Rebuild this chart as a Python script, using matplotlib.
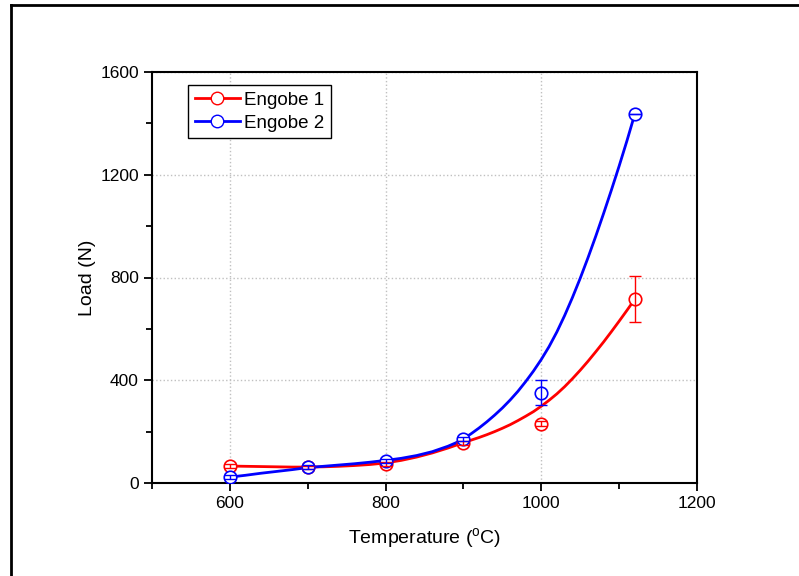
import numpy as np
import matplotlib
matplotlib.use("Agg")
import matplotlib.pyplot as plt
from matplotlib.lines import Line2D
from matplotlib.ticker import MultipleLocator

plt.rcParams['font.family'] = ['Liberation Sans', 'DejaVu Sans']
plt.rcParams['mathtext.fontset'] = 'custom'
plt.rcParams['mathtext.rm'] = 'Liberation Sans'

# measured points
temp = [600, 700, 800, 900, 1000, 1120]
load_e1 = [66, 62, 74, 157, 230, 715]
err_e1 = [8, 6, 8, 8, 10, 90]
load_e2 = [23, 62, 87, 171, 352, 1435]
err_e2 = [8, 8, 8, 8, 48, 0]

# fitted curves
fit_t1 = [600, 620, 640, 660, 680, 700, 720, 740, 760, 780, 800, 820, 840, 860,
          880, 900, 910, 920, 930, 940, 950, 960, 970, 980, 990, 1000, 1010,
          1020, 1030, 1040, 1050, 1060, 1070, 1080, 1090, 1100, 1110, 1120]
fit_e1 = [66, 65, 64, 63, 62, 62, 63, 65, 68, 72, 78, 88, 101, 117,
          136, 157, 167, 177, 188, 200, 213, 227, 243, 260, 278, 299, 322,
          347, 375, 406, 439, 474, 511, 549, 589, 630, 672, 715]
fit_t2 = [600, 620, 640, 660, 680, 700, 720, 740, 760, 780, 800, 820, 840, 860,
          880, 890, 900, 910, 920, 930, 940, 950, 960, 970, 980, 990, 1000, 1010,
          1020, 1030, 1040, 1050, 1060, 1070, 1080, 1090, 1100, 1110, 1120]
fit_e2 = [23, 30, 38, 45, 52, 60, 65, 70, 75, 81, 88, 96, 107, 122,
          143, 156, 172, 192, 214, 238, 264, 292, 323, 357, 395, 436, 481, 531,
          588, 652, 722, 797, 877, 961, 1049, 1140, 1234, 1332, 1435]

fig = plt.figure(figsize=(7.99, 5.76), dpi=100)
ax = fig.add_axes([152/799, 1 - 483/576, 545/799, 411/576])

ax.plot(fit_t1, fit_e1, color='red', lw=2, zorder=2)
ax.plot(fit_t2, fit_e2, color='blue', lw=2, zorder=2)

for y, e, c in [(load_e1, err_e1, 'red'), (load_e2, err_e2, 'blue')]:
    ax.plot(temp, y, 'o', ms=9, mfc='white', mec=c, mew=1.2, zorder=3)
    ax.errorbar(temp, y, yerr=e, fmt='none', ecolor=c, elinewidth=1,
                capsize=4, capthick=1, zorder=4)

ax.set_xlim(500, 1200)
ax.set_ylim(0, 1600)
ax.xaxis.set_major_locator(MultipleLocator(200))
ax.xaxis.set_minor_locator(MultipleLocator(100))
ax.yaxis.set_major_locator(MultipleLocator(400))
ax.yaxis.set_minor_locator(MultipleLocator(200))
ax.tick_params(which='major', direction='out', length=6, width=1.3, labelsize=12.5)
ax.tick_params(which='minor', direction='out', length=4, width=1.3)
for s in ax.spines.values():
    s.set_linewidth(1.5)
ax.grid(True, which='major', ls=':', color='#c0c0c0', lw=1)
ax.set_axisbelow(True)

ax.set_xlabel(r'Temperature ($^\mathrm{o}$C)', fontsize=14, labelpad=11)
ax.set_ylabel('Load (N)', fontsize=14, labelpad=3)

h1 = Line2D([], [], color='red', lw=2, marker='o', ms=9, mfc='white', mec='red')
h2 = Line2D([], [], color='blue', lw=2, marker='o', ms=9, mfc='white', mec='blue')
leg = ax.legend([h1, h2], ['Engobe 1', 'Engobe 2'], loc='upper left',
                bbox_to_anchor=(0.066, 0.968), borderaxespad=0, fontsize=13.5,
                fancybox=False, framealpha=1, edgecolor='black', handlelength=2.4,
                borderpad=0.35, labelspacing=0.3, handletextpad=0.25)
leg.get_frame().set_linewidth(1)

# outer frame
fig.add_artist(Line2D([11/799, 11/799], [0, 1 - 5/576], color='black', lw=2))
fig.add_artist(Line2D([11/799, 1], [1 - 5/576, 1 - 5/576], color='black', lw=2))

fig.savefig('out.png', dpi=100)
